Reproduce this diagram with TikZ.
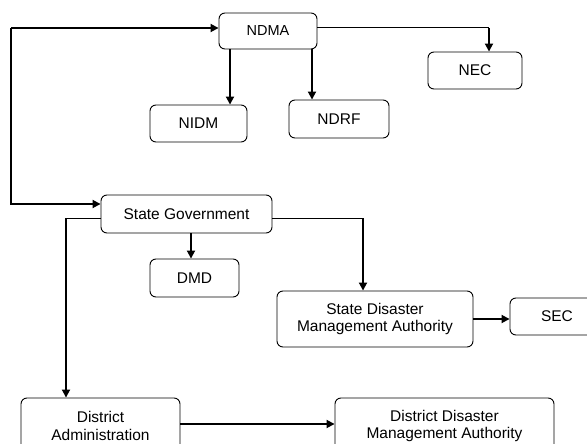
\documentclass[tikz,border=0pt]{standalone}
\usepackage{fontspec}
\setmainfont{Liberation Sans}
\usetikzlibrary{arrows.meta}

\begin{document}
\begin{tikzpicture}[x=1pt,y=-1pt,
    box node/.style={draw,rounded corners=6pt,line width=0.9pt,align=center,
                     inner sep=0pt,font=\fontsize{15.5}{17.5}\selectfont},
    link/.style={line width=1.8pt,-{Triangle[length=8pt,width=8pt]}},
    feed/.style={line width=1pt}]

  \useasboundingbox (0,0) rectangle (587,444);
  \clip (0,0) rectangle (587,444);

  % national level
  \node[box node,minimum width=98pt,minimum height=36pt,
        font=\fontsize{14.5}{17}\selectfont] (ndma) at (268,31) {NDMA};
  \node[box node,minimum width=97pt,minimum height=37pt] (nidm) at (198.5,123.5) {NIDM};
  \node[box node,minimum width=100pt,minimum height=38pt] (ndrf) at (339,119) {NDRF};
  \node[box node,minimum width=94pt,minimum height=37pt] (nec) at (475,70.5) {NEC};

  % state level
  \node[box node,minimum width=171pt,minimum height=38pt] (sg) at (186.5,214) {State Government};
  \node[box node,minimum width=89pt,minimum height=38pt] (dmd) at (194.5,278) {DMD};
  \node[box node,minimum width=196pt,minimum height=56pt] (sdma) at (375,319)
        {State Disaster\\Management Authority};
  \node[box node,minimum width=94pt,minimum height=37pt] (sec) at (557,316.5) {SEC};

  % district level
  \node[box node,minimum width=159pt,minimum height=56pt] (da) at (100.5,426)
        {District\\Administration};
  \node[box node,minimum width=219pt,minimum height=56pt] (ddma) at (444.5,426)
        {District Disaster\\Management Authority};

  % loop on the left
  \coordinate (top left) at (11,28);
  \coordinate (bottom left) at (11,204);
  \draw[link] (top left) -- (top left -| ndma.west);
  \draw[link] (top left) -- (bottom left) -- (bottom left -| sg.west);

  % NDMA branches
  \path (ndma.south) ++(-38,0) coordinate (to nidm);
  \path (ndma.south) ++(44,0) coordinate (to ndrf);
  \draw[link] (to nidm) -- (to nidm |- nidm.north);
  \draw[link] (to ndrf) -- (to ndrf |- ndrf.north);
  \path (nec.north) ++(14,0) coordinate (nec top);
  \path (ndma.east) ++(0,-3) coordinate (ndma out);
  \coordinate (nec bend) at (nec top |- ndma out);
  \draw[feed] (ndma out) -- (nec bend);
  \draw[link] (nec bend) -- (nec top);

  % state government branches
  \path (sg.south) ++(4.5,0) coordinate (to dmd);
  \draw[link] (to dmd) -- (to dmd |- dmd.north);
  \path (sg.east) ++(0,4) coordinate (sg right);
  \path (sdma.north) ++(-12,0) coordinate (sdma top);
  \coordinate (sdma bend) at (sdma top |- sg right);
  \draw[feed] (sg right) -- (sdma bend);
  \draw[link] (sdma bend) -- (sdma top);
  \path (sg.west) ++(0,4) coordinate (sg left);
  \path (da.north) ++(-34.5,0) coordinate (da top);
  \coordinate (da bend) at (da top |- sg left);
  \draw[feed] (sg left) -- (da bend);
  \draw[link] (da bend) -- (da top);

  \draw[link] (sdma.east) -- (sdma.east -| sec.west);
  \path (da.east) ++(0,-2) coordinate (da right);
  \draw[link] (da right) -- (da right -| ddma.west);
\end{tikzpicture}
\end{document}
